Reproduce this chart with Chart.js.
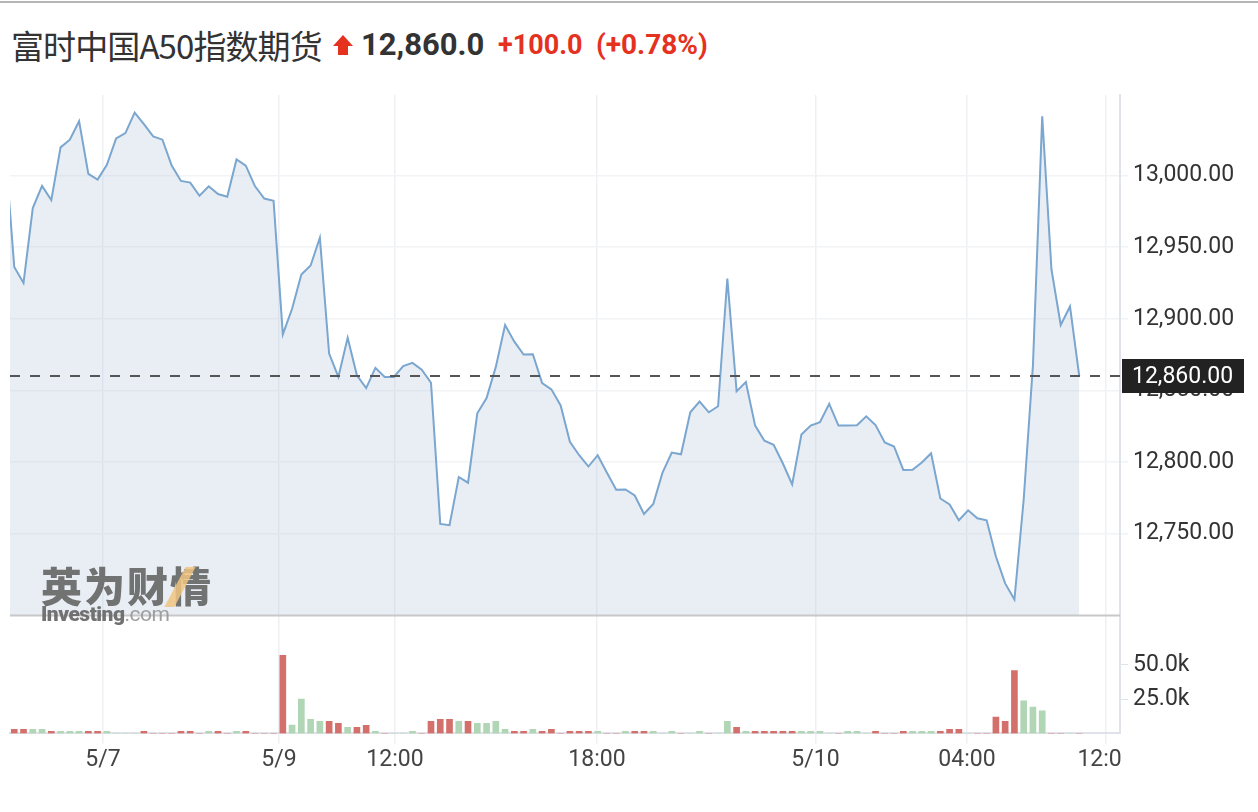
<!DOCTYPE html>
<html>
<head>
<meta charset="utf-8">
<script src="https://cdn.jsdelivr.net/npm/chart.js@4.4.1/dist/chart.umd.min.js"></script>
<style>
html,body{margin:0;padding:0;background:#fff;}
body{width:1258px;height:812px;position:relative;overflow:hidden;font-family:Roboto,"Noto Sans CJK SC",sans-serif;}
#topline{position:absolute;left:0;top:1px;width:1258px;height:2px;background:#b5b5b5;}
.t{position:absolute;top:25px;line-height:40px;white-space:nowrap;}
#name{left:11px;font-family:"Noto Sans CJK SC",sans-serif;font-size:33px;color:#333;letter-spacing:-0.9px;}
#arrow{position:absolute;left:333px;top:35px;width:20px;height:20px;}
#arrow .tri{position:absolute;left:0;top:0;width:0;height:0;border-left:10px solid transparent;border-right:10px solid transparent;border-bottom:11px solid #e5321f;}
#arrow .stem{position:absolute;left:5px;top:10px;width:10px;height:10px;background:#e5321f;}
#last{left:361px;font-family:Roboto,sans-serif;font-weight:700;font-size:31px;color:#333;}
#chg{left:498px;font-family:Roboto,sans-serif;font-weight:700;font-size:27px;color:#e5321f;}
#pct{left:596px;font-family:Roboto,sans-serif;font-weight:700;font-size:28px;color:#e5321f;}
#cv{position:absolute;left:0;top:0;}
#wm{position:absolute;left:41px;top:561px;color:#6b6b6b;opacity:0.95;pointer-events:none;}
#wm .cn{font-family:"Noto Sans CJK SC",sans-serif;font-weight:900;font-size:41px;line-height:47px;letter-spacing:2px;}
#wm .en{font-family:Roboto,sans-serif;font-weight:900;font-size:21px;line-height:21px;margin-top:-4px;letter-spacing:-0.5px;}
#wm .en span{font-weight:400;color:#9a9a9a;}
#wm .slash{position:absolute;left:134px;top:6px;width:10px;height:40px;background:#f0c27a;transform:skewX(-28deg);opacity:0.85;}
</style>
</head>
<body>
<div id="topline"></div>
<div class="t" id="name">富时中国A50指数期货</div>
<div id="arrow"><div class="tri"></div><div class="stem"></div></div>
<div class="t" id="last">12,860.0</div>
<div class="t" id="chg">+100.0</div>
<div class="t" id="pct">(+0.78%)</div>
<canvas id="cv" width="1258" height="812"></canvas>
<div id="wm"><div class="slash"></div><div class="cn">英为财情</div><div class="en">Investing<span>.com</span></div></div>
<script>
// ---- data ----
const priceValues = [
  13020.0, 12936.2, 12925.0, 12977.3, 12992.8, 12982.9, 13019.7, 13025.1, 13038.0, 13001.2,
  12997.2, 13007.5, 13026.0, 13029.7, 13044.0, 13035.9, 13027.4, 13025.1, 13007.0, 12996.3,
  12995.1, 12985.9, 12992.5, 12987.1, 12985.2, 13011.3, 13007.0, 12992.5, 12984.0, 12982.4,
  12889.1, 12907.0, 12930.9, 12937.2, 12956.6, 12875.7, 12859.4, 12886.8, 12860.5, 12851.6,
  12865.7, 12859.4, 12859.4, 12866.9, 12869.2, 12864.5, 12855.3, 12756.7, 12755.8, 12789.5,
  12785.5, 12834.0, 12844.6, 12866.4, 12895.7, 12884.0, 12875.0, 12875.2, 12855.1, 12850.7,
  12839.5, 12814.1, 12804.7, 12796.8, 12804.7, 12792.5, 12780.6, 12780.8, 12776.6, 12763.7,
  12770.7, 12792.5, 12806.6, 12805.4, 12834.7, 12842.2, 12834.7, 12838.9, 12928.1, 12849.3,
  12855.8, 12825.4, 12814.8, 12812.0, 12798.9, 12784.3, 12819.1, 12825.4, 12827.7, 12840.6,
  12825.4, 12825.5, 12825.6, 12831.9, 12825.8, 12813.6, 12810.8, 12794.4, 12794.5, 12799.6,
  12806.1, 12774.5, 12770.3, 12759.3, 12766.2, 12760.7, 12759.3, 12734.0, 12715.2, 12703.9,
  12773.8, 12867.6, 13041.5, 12934.4, 12895.7, 12908.6, 12860.0
];
// volume in thousands
const volumeValues = [
  2, 3, 3, 3, 3, 1.5, 1.5, 1.5, 1.5, 1.5,
  1.5, 1.5, 0, 0, 0, 1.5, 0, 0, 0, 1.5,
  1.5, 0, 1.5, 1.5, 0, 1.5, 1.5, 0, 0, 0,
  57, 6, 25, 10.3, 8.8, 8.8, 7.4, 4.4, 4.4, 5.9,
  1.5, 0, 0, 0, 1.5, 0, 8.8, 10.3, 10.3, 8.8,
  8.8, 7.4, 7.4, 8.8, 3, 1.5, 1.5, 3, 1.5, 3,
  0, 1.5, 1.5, 1.5, 1.5, 0, 0, 1.5, 1.5, 1.5,
  1.5, 0, 1.5, 0, 0, 1.5, 0, 0, 8.8, 4.4,
  1.5, 1.5, 1.5, 1.5, 1.5, 1.5, 1.5, 1.5, 1.5, 0,
  0, 1.5, 1.5, 0, 1.5, 0, 0, 1.5, 1.5, 1.5,
  1.5, 1.5, 3, 3, 0, 0, 0, 12, 8.8, 45.8,
  23.8, 19.3, 16.4, 0, 0, 0, 0
];
const xTickPositions = [10.58, 29.59, 42.11, 63.92, 87.52, 103.88, 118.89];
const xTickLabels = ['5/7', '5/9', '12:00', '18:00', '5/10', '04:00', '12:00'];
const priceTicks = [12750, 12800, 12850, 12900, 12950, 13000];
const volumeTicks = [25, 50];
const lastPrice = 12860;

// ---- build ----
const RED = '#d4706c', GREEN = '#b0d6b6';
const pricePoints = priceValues.map((v, i) => ({x: i, y: v}));
const volumePoints = volumeValues.map((v, i) => ({x: i, y: v}));
const barColors = priceValues.map((v, i) => (i > 0 && v >= priceValues[i - 1]) ? GREEN : RED);
const fmt2 = v => v.toLocaleString('en-US', {minimumFractionDigits: 2, maximumFractionDigits: 2});
const FS = 23;

const clipPlugin = {
  id: 'clipx',
  beforeDraw(chart) {
    const ctx = chart.ctx, a = chart.chartArea;
    ctx.save();
    ctx.beginPath();
    ctx.rect(0, 0, a.right + 2, chart.height);
    ctx.rect(a.right + 2, 0, chart.width - a.right - 2, a.bottom + 6);
    ctx.clip();
  },
  afterDraw(chart) { chart.ctx.restore(); }
};

const overlayPlugin = {
  id: 'overlay',
  afterDatasetsDraw(chart) {
    const ctx = chart.ctx, a = chart.chartArea, y = chart.scales.y;
    ctx.save();
    ctx.strokeStyle = '#c8c8c8';
    ctx.lineWidth = 2;
    ctx.beginPath();
    ctx.moveTo(a.left, y.bottom);
    ctx.lineTo(a.right, y.bottom);
    ctx.stroke();
    ctx.restore();
  },
  afterDraw(chart) {
    const ctx = chart.ctx, a = chart.chartArea, y = chart.scales.y;
    const py = Math.round(y.getPixelForValue(lastPrice));
    ctx.save();
    ctx.strokeStyle = '#555';
    ctx.lineWidth = 2;
    ctx.setLineDash([10, 10]);
    ctx.beginPath();
    ctx.moveTo(a.left, py);
    ctx.lineTo(a.right, py);
    ctx.stroke();
    ctx.setLineDash([]);
    ctx.fillStyle = '#222';
    ctx.fillRect(a.right + 2, py - 17, 122, 34);
    ctx.fillStyle = '#fff';
    ctx.font = FS + 'px Roboto';
    ctx.textBaseline = 'middle';
    ctx.textAlign = 'left';
    ctx.fillText(fmt2(lastPrice), a.right + 12, py + 1);
    ctx.restore();
  }
};

new Chart(document.getElementById('cv'), {
  data: {
    datasets: [
      {
        type: 'line', data: pricePoints, yAxisID: 'y', xAxisID: 'x',
        borderColor: '#7aa6cf', borderWidth: 2, pointRadius: 0,
        fill: 'start', backgroundColor: 'rgba(182,198,222,0.3)', tension: 0, order: 1
      },
      {
        type: 'bar', data: volumePoints, yAxisID: 'yv', xAxisID: 'x',
        backgroundColor: barColors, barThickness: 6, order: 2
      }
    ]
  },
  options: {
    responsive: false,
    animation: false,
    events: [],
    layout: {padding: {top: 95, left: 10, right: 0, bottom: 35}},
    plugins: {legend: {display: false}, tooltip: {enabled: false}},
    scales: {
      x: {
        type: 'linear', min: 0.54, max: 120.4, offset: false, bounds: 'ticks',
        grid: {color: '#eef0f3', lineWidth: 1.5, tickLength: 10, offset: false},
        border: {color: '#dfe2e8', width: 2},
        afterBuildTicks: s => { s.ticks = xTickPositions.map(v => ({value: v})); },
        ticks: {
          autoSkip: false, maxRotation: 0, padding: 3, color: '#444',
          font: {family: 'Roboto', size: FS},
          callback: (v, i) => xTickLabels[i]
        }
      },
      y: {
        type: 'linear', position: 'right', min: 12692.7, max: 13056.3,
        stack: 'r', stackWeight: 517,
        grid: {color: '#f2f3f5', lineWidth: 1.5, tickLength: 8},
        border: {color: '#e0e3e8', width: 2},
        afterBuildTicks: s => { s.ticks = priceTicks.map(v => ({value: v})); },
        afterFit: s => { s.width = 138; },
        ticks: {padding: 5, color: '#333', font: {family: 'Roboto', size: FS}, callback: v => fmt2(v)}
      },
      yv: {
        type: 'linear', position: 'right', min: 0, max: 86,
        stack: 'r', stackWeight: 117,
        grid: {drawOnChartArea: false, tickLength: 8, color: '#dfe2e8'},
        border: {color: '#e0e3e8', width: 2},
        afterBuildTicks: s => { s.ticks = volumeTicks.map(v => ({value: v})); },
        afterFit: s => { s.width = 138; },
        ticks: {padding: 5, color: '#333', font: {family: 'Roboto', size: FS}, callback: v => v.toFixed(1) + 'k'}
      }
    }
  },
  plugins: [clipPlugin, overlayPlugin]
});
</script>
</body>
</html>
